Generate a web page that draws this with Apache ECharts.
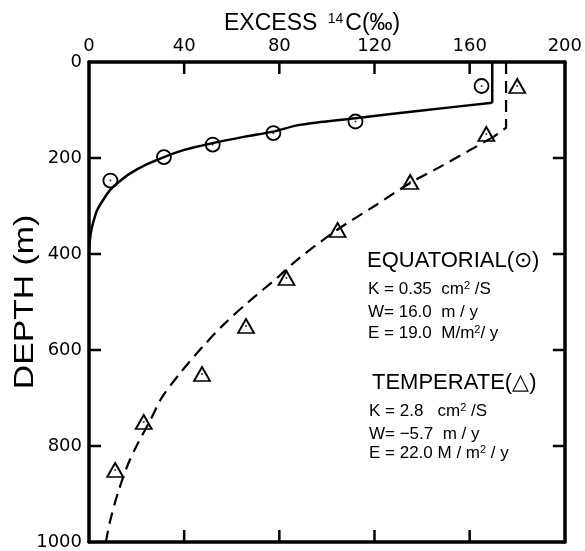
<!DOCTYPE html>
<html>
<head>
<meta charset="utf-8">
<script src="https://cdn.jsdelivr.net/npm/echarts@6/dist/echarts.min.js"></script>
<style>
  html, body { margin: 0; padding: 0; background: #fff; }
  #chart { width: 585px; height: 551px; }
</style>
</head>
<body>
<div id="chart"></div>
<script>
// Tick values
const excessTicks = [0, 40, 80, 120, 160, 200];
const depthTicks = [0, 200, 400, 600, 800, 1000];

// Equatorial observations (circles)
const eqObsExcess = [165, 112, 77.5, 52, 31.5, 9];
const eqObsDepth = [50, 124, 148, 172, 198, 247];

// Temperate observations (triangles)
const tmpObsExcess = [180, 167, 135, 104.5, 83, 66, 47.5, 23, 11];
const tmpObsDepth = [50, 150, 250, 350, 450, 550, 650, 750, 850];

// Equatorial model: mixed layer
const eqCapExcess = [169.5, 169.5];
const eqCapDepth = [0, 85];
// Equatorial model: thermocline profile
const eqCurveExcess = [169.5, 140, 112, 88.5, 77.5, 65, 52, 40, 31.5, 24, 17, 12.5, 9, 6, 3.5, 2, 1, 0.4, 0];
const eqCurveDepth = [85, 101, 117, 131, 145, 156, 169, 183, 198, 214, 233, 250, 266, 287, 308, 330, 350, 370, 395];

// Temperate model: mixed layer and bend
const tmpCapExcess = [175.3, 175.3, 170];
const tmpCapDepth = [0, 137, 156];
// Temperate model: deep profile
const tmpCurveExcess = [170, 147, 135, 120, 104.5, 88, 79, 67, 57, 48, 38, 30.5, 25.6, 20.5, 16.4, 12, 8.8, 7.1];
const tmpCurveDepth = [156, 220, 252, 300, 349, 410, 450, 500, 545, 592, 650, 700, 748, 795, 838, 900, 958, 1000];

const zip = (xs, ys) => xs.map((x, i) => [x, ys[i]]);

const FONT = '"Liberation Sans", "Helvetica", Arial, sans-serif';
const TICK_FONT = '"DejaVu Sans", "Liberation Sans", sans-serif';
const INK = '#000';
const TICK_LEN = 12;

const makeLine = () => ({ show: true, onZero: false, lineStyle: { color: INK, width: 3.5 } });
const makeLabel = (show) => show
  ? { show: true, color: INK, fontSize: 18, fontFamily: TICK_FONT, margin: 7,
      showMinLabel: true, showMaxLabel: true, formatter: (v) => String(v) }
  : { show: false };

const chart = echarts.init(document.getElementById('chart'));

const annot = (x, y, text, size) => ({
  type: 'text', x: x, y: y,
  style: {
    text: text,
    fill: INK,
    verticalAlign: 'middle',
    rich: {
      a: { fontSize: size, fontFamily: FONT, color: INK },
      s: { fontSize: Math.round(size * 0.62), fontFamily: FONT, color: INK, verticalAlign: 'top' }
    }
  }
});

const labels = [
  {
    type: 'text', x: 224, y: 24,
    style: {
      text: '{a|EXCESS }{s|14}{a|C(‰)}',
      verticalAlign: 'middle',
      rich: {
        a: { fontSize: 23, fontFamily: FONT, color: INK },
        s: { fontSize: 14, fontFamily: FONT, color: INK, verticalAlign: 'top', padding: [0, 2, 0, 4] }
      }
    }
  },
  {
    type: 'text', x: 26, y: 302, rotation: Math.PI / 2, scaleX: 1.25,
    style: {
      text: 'DEPTH (m)', fill: INK,
      font: '27px ' + FONT,
      align: 'center', verticalAlign: 'middle'
    }
  },
  annot(367, 261, '{a|EQUATORIAL(⊙)}', 22),
  annot(368, 289, '{a|K = 0.35  cm}{s|2}{a| /S}', 17),
  annot(368, 312, '{a|W= 16.0  m / y}', 17),
  annot(368, 333, '{a|E = 19.0  M/m}{s|2}{a|/ y}', 17),
  annot(372, 383, '{a|TEMPERATE(△)}', 22),
  annot(369, 411, '{a|K = 2.8   cm}{s|2}{a| /S}', 17),
  annot(369, 434, '{a|W= −5.7  m / y}', 17),
  annot(369, 453, '{a|E = 22.0 M / m}{s|2}{a| / y}', 17)
];

chart.setOption({
  animation: false,
  grid: { left: 89, right: 19, top: 62, bottom: 8 },
  xAxis: [
    {
      type: 'value', position: 'top', min: excessTicks[0], max: excessTicks[excessTicks.length - 1], interval: 40,
      axisLine: makeLine(), axisTick: { show: false }, splitLine: { show: false },
      axisLabel: makeLabel(true)
    },
    {
      type: 'value', position: 'bottom', min: 0, max: 200, interval: 40,
      axisLine: makeLine(), axisTick: { show: false }, splitLine: { show: false },
      axisLabel: makeLabel(false)
    }
  ],
  yAxis: [
    {
      type: 'value', position: 'left', inverse: true, min: depthTicks[0], max: depthTicks[depthTicks.length - 1], interval: 200,
      axisLine: makeLine(), axisTick: { show: false }, splitLine: { show: false },
      axisLabel: makeLabel(true)
    },
    {
      type: 'value', position: 'right', inverse: true, min: 0, max: 1000, interval: 200,
      axisLine: makeLine(), axisTick: { show: false }, splitLine: { show: false },
      axisLabel: makeLabel(false)
    }
  ],
  graphic: labels,
  series: [
    {
      name: 'Equatorial mixed layer', type: 'line', data: zip(eqCapExcess, eqCapDepth),
      showSymbol: false, symbol: 'none', smooth: false,
      lineStyle: { color: INK, width: 2.5 }
    },
    {
      name: 'Equatorial model', type: 'line', data: zip(eqCurveExcess, eqCurveDepth),
      showSymbol: false, symbol: 'none', smooth: 0.3,
      lineStyle: { color: INK, width: 2.5 }
    },
    {
      name: 'Temperate mixed layer', type: 'line', data: zip(tmpCapExcess, tmpCapDepth),
      showSymbol: false, symbol: 'none', smooth: false,
      lineStyle: { color: INK, width: 2.2, type: [12, 7] }
    },
    {
      name: 'Temperate model', type: 'line', data: zip(tmpCurveExcess, tmpCurveDepth),
      showSymbol: false, symbol: 'none', smooth: 0.3,
      lineStyle: { color: INK, width: 2.2, type: [12, 7] }
    },
    {
      name: 'Equatorial', type: 'scatter', data: zip(eqObsExcess, eqObsDepth),
      symbol: 'circle', symbolSize: 14,
      itemStyle: { color: 'rgba(255,255,255,0)', borderColor: INK, borderWidth: 1.8, opacity: 1 }
    },
    {
      name: 'Temperate', type: 'scatter', data: zip(tmpObsExcess, tmpObsDepth),
      symbol: 'triangle', symbolSize: [16, 14],
      itemStyle: { color: 'rgba(255,255,255,0)', borderColor: INK, borderWidth: 1.8, opacity: 1 }
    },
    {
      name: 'Centres', type: 'scatter',
      data: zip(eqObsExcess, eqObsDepth).concat(zip(tmpObsExcess, tmpObsDepth)),
      symbol: 'circle', symbolSize: 2,
      itemStyle: { color: INK }
    }
  ]
});

// Inward-pointing frame ticks, placed through the axes' own scales
const px = (v) => chart.convertToPixel({ xAxisIndex: 0 }, v);
const py = (v) => chart.convertToPixel({ yAxisIndex: 0 }, v);
const xLeft = px(excessTicks[0]);
const xRight = px(excessTicks[excessTicks.length - 1]);
const yTop = py(depthTicks[0]);
const yBottom = py(depthTicks[depthTicks.length - 1]);
const tickStyle = { stroke: INK, lineWidth: 2.5 };
const tickMarks = [];
excessTicks.slice(1, -1).forEach((v) => {
  const x = px(v);
  tickMarks.push({ type: 'line', z: 10, shape: { x1: x, y1: yTop, x2: x, y2: yTop + TICK_LEN }, style: tickStyle });
  tickMarks.push({ type: 'line', z: 10, shape: { x1: x, y1: yBottom, x2: x, y2: yBottom - TICK_LEN }, style: tickStyle });
});
depthTicks.slice(1, -1).forEach((v) => {
  const y = py(v);
  tickMarks.push({ type: 'line', z: 10, shape: { x1: xLeft, y1: y, x2: xLeft + TICK_LEN, y2: y }, style: tickStyle });
  tickMarks.push({ type: 'line', z: 10, shape: { x1: xRight, y1: y, x2: xRight - TICK_LEN, y2: y }, style: tickStyle });
});
chart.setOption({ graphic: labels.concat(tickMarks) });
</script>
</body>
</html>
